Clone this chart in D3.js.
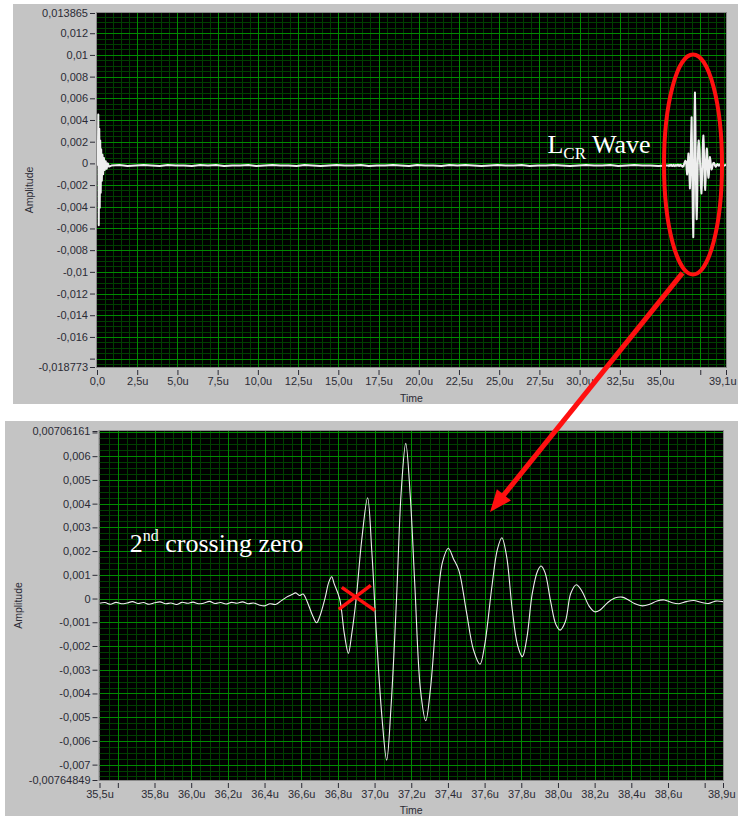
<!DOCTYPE html>
<html>
<head>
<meta charset="utf-8">
<script src="https://cdn.jsdelivr.net/npm/d3@7"></script>
<style>
	body { margin: 0; background: #ffffff; }
	svg { display: block; }
</style>
</head>
<body>
<script>
'use strict';

// ---- data (time in µs, amplitude) ----

// excitation pulse at the start of the full record
const topSpike = [
	[0.00, -0.0002], [0.05, -0.0001], [0.08, 0.0045], [0.11, -0.0057], [0.14, 0.0032], [0.17, -0.0041],
	[0.20, 0.0021], [0.23, -0.0027], [0.26, 0.0013], [0.30, -0.0016], [0.34, 0.0008], [0.38, -0.0010],
	[0.43, 0.0005], [0.48, -0.0006], [0.54, 0.0002], [0.60, -0.0005], [0.67, 0.0000], [0.75, -0.0003]
];

// quiet baseline between the pulse and the LCR burst
const topBase = [
	[0.9, -0.00020], [1.4, -0.00015], [1.9, -0.00025], [2.4, -0.00020], [2.9, -0.00015], [3.4, -0.00020], [3.9, -0.00025],
	[4.4, -0.00015], [4.9, -0.00020], [5.4, -0.00020], [5.9, -0.00025], [6.4, -0.00015], [6.9, -0.00020], [7.4, -0.00015],
	[7.9, -0.00025], [8.4, -0.00020], [8.9, -0.00020], [9.4, -0.00015], [9.9, -0.00025], [10.4, -0.00020], [10.9, -0.00015],
	[11.4, -0.00020], [11.9, -0.00020], [12.4, -0.00025], [12.9, -0.00015], [13.4, -0.00020], [13.9, -0.00025], [14.4, -0.00020],
	[14.9, -0.00015], [15.4, -0.00020], [15.9, -0.00020], [16.4, -0.00015], [16.9, -0.00025], [17.4, -0.00020], [17.9, -0.00020],
	[18.4, -0.00015], [18.9, -0.00020], [19.4, -0.00025], [19.9, -0.00015], [20.4, -0.00020], [20.9, -0.00020], [21.4, -0.00025],
	[21.9, -0.00015], [22.4, -0.00020], [22.9, -0.00015], [23.4, -0.00020], [23.9, -0.00025], [24.4, -0.00020], [24.9, -0.00015],
	[25.4, -0.00020], [25.9, -0.00020], [26.4, -0.00015], [26.9, -0.00025], [27.4, -0.00020], [27.9, -0.00020], [28.4, -0.00015],
	[28.9, -0.00020], [29.4, -0.00025], [29.9, -0.00020], [30.4, -0.00015], [30.9, -0.00020], [31.4, -0.00020], [31.9, -0.00015],
	[32.4, -0.00025], [32.9, -0.00020], [33.4, -0.00015], [33.9, -0.00020], [34.4, -0.00020], [34.9, -0.00025], [35.4, -0.00020]
];

// LCR wave, 35.5u .. 38.9u (shown zoomed in the lower graph)
const burst = [
	[35.50, -0.00020], [35.53, -0.00017], [35.56, -0.00024], [35.59, -0.00016], [35.62, -0.00022], [35.65, -0.00019],
	[35.68, -0.00013], [35.71, -0.00021], [35.74, -0.00017], [35.77, -0.00024], [35.80, -0.00018], [35.83, -0.00014],
	[35.86, -0.00022], [35.89, -0.00019], [35.92, -0.00025], [35.95, -0.00016], [35.98, -0.00020], [36.01, -0.00015],
	[36.04, -0.00022], [36.07, -0.00019], [36.10, -0.00012], [36.13, -0.00021], [36.16, -0.00017], [36.19, -0.00023],
	[36.22, -0.00016], [36.25, -0.00020], [36.28, -0.00014], [36.31, -0.00022], [36.34, -0.00019], [36.37, -0.00027],
	[36.40, -0.00031], [36.43, -0.00022], [36.46, -0.00025], [36.49, -0.00010], [36.52, 0.00006], [36.55, 0.00017],
	[36.57, 0.00024], [36.59, 0.00013], [36.61, 0.00019], [36.63, -0.00008], [36.66, -0.00068], [36.684, -0.00102],
	[36.70, -0.00078], [36.73, 0.00002], [36.75, 0.00068], [36.766, 0.00092], [36.78, 0.00062], [36.81, -0.00002],
	[36.835, -0.00148], [36.857, -0.00231], [36.875, -0.00152], [36.90, 0.00002], [36.93, 0.00248], [36.962, 0.00425],
	[36.985, 0.00198], [37.01, -0.00152], [37.04, -0.00498], [37.066, -0.00681], [37.09, -0.00452], [37.12, 0.00003],
	[37.145, 0.00448], [37.170, 0.00654], [37.195, 0.00428], [37.22, 0.00048], [37.25, -0.00382], [37.279, -0.00515],
	[37.305, -0.00378], [37.34, -0.00048], [37.37, 0.00152], [37.402, 0.00212], [37.43, 0.00168], [37.46, 0.00118],
	[37.50, -0.00052], [37.54, -0.00218], [37.575, -0.00277], [37.60, -0.00198], [37.64, 0.00052], [37.67, 0.00208],
	[37.694, 0.00256], [37.72, 0.00178], [37.75, -0.00042], [37.78, -0.00198], [37.806, -0.00245], [37.83, -0.00168],
	[37.86, 0.00022], [37.89, 0.00118], [37.908, 0.00137], [37.93, 0.00108], [37.96, -0.00012], [37.99, -0.00112],
	[38.012, -0.00133], [38.04, -0.00098], [38.07, 0.00022], [38.10, 0.00058], [38.13, 0.00032], [38.17, -0.00032],
	[38.20, -0.00056], [38.23, -0.00048], [38.27, -0.00018], [38.31, 0.00002], [38.35, 0.00006], [38.38, -0.00004],
	[38.42, -0.00022], [38.46, -0.00031], [38.50, -0.00024], [38.54, -0.00010], [38.58, -0.00006], [38.62, -0.00017],
	[38.66, -0.00022], [38.70, -0.00013], [38.74, -0.00008], [38.78, -0.00016], [38.82, -0.00021], [38.86, -0.00011],
	[38.90, -0.00013]
];

const topTail = [[39.0, -0.0002], [39.1, -0.0001]];

// axis ticks and their labels (blank label = tick hidden by LabVIEW because it overlaps an end label)
const topXTicks  = [0, 2.5, 5, 7.5, 10, 12.5, 15, 17.5, 20, 22.5, 25, 27.5, 30, 32.5, 35, 37.5, 39.1];
const topXLabels = ['0,0', '2,5u', '5,0u', '7,5u', '10,0u', '12,5u', '15,0u', '17,5u', '20,0u', '22,5u', '25,0u',
	'27,5u', '30,0u', '32,5u', '35,0u', '', '39,1u'];
const topYTicks  = [0.013865, 0.012, 0.01, 0.008, 0.006, 0.004, 0.002, 0, -0.002, -0.004, -0.006, -0.008,
	-0.01, -0.012, -0.014, -0.016, -0.018, -0.018773];
const topYLabels = ['0,013865', '0,012', '0,01', '0,008', '0,006', '0,004', '0,002', '0', '-0,002', '-0,004',
	'-0,006', '-0,008', '-0,01', '-0,012', '-0,014', '-0,016', '', '-0,018773'];

const botXTicks  = [35.5, 35.6, 35.8, 36.0, 36.2, 36.4, 36.6, 36.8, 37.0, 37.2, 37.4, 37.6, 37.8, 38.0, 38.2,
	38.4, 38.6, 38.8, 38.9];
const botXLabels = ['35,5u', '', '35,8u', '36,0u', '36,2u', '36,4u', '36,6u', '36,8u', '37,0u', '37,2u', '37,4u',
	'37,6u', '37,8u', '38,0u', '38,2u', '38,4u', '38,6u', '', '38,9u'];
const botYTicks  = [0.00706161, 0.007, 0.006, 0.005, 0.004, 0.003, 0.002, 0.001, 0, -0.001, -0.002, -0.003,
	-0.004, -0.005, -0.006, -0.007, -0.00764849];
const botYLabels = ['0,00706161', '', '0,006', '0,005', '0,004', '0,003', '0,002', '0,001', '0', '-0,001',
	'-0,002', '-0,003', '-0,004', '-0,005', '-0,006', '-0,007', '-0,00764849'];

// ---- drawing ----
const COLORS = {
	panel: '#c4c4c4',
	plot: '#000000',
	major: '#008a00',
	minor: '#003f00',
	trace: '#eeeeee',
	text: '#2b2b35',
	mark: '#ff1010'
};
const LABEL_FONT = '"Liberation Sans", Arial, sans-serif';

let svg = d3.select('body').append('svg').attr('width', 738).attr('height', 816);
let defs = svg.append('defs');

function drawGraph(p) {
	svg.append('rect')
		.attr('x', p.panel[0]).attr('y', p.panel[1])
		.attr('width', p.panel[2]).attr('height', p.panel[3])
		.attr('fill', COLORS.panel);

	let x = d3.scaleLinear().domain(p.xDomain).range([p.left, p.right]);
	let y = d3.scaleLinear().domain(p.yDomain).range([p.bottom, p.top]);

	let g = svg.append('g');
	g.append('rect')
		.attr('x', p.left).attr('y', p.top)
		.attr('width', p.right - p.left).attr('height', p.bottom - p.top)
		.attr('fill', COLORS.plot);

	// minor then major grid
	let grid = [
		{ xs: p.xMinor, ys: p.yMinor, color: COLORS.minor },
		{ xs: p.xMajor, ys: p.yMajor, color: COLORS.major }
	];
	grid.forEach((gr) => {
		g.append('g').selectAll('line').data(gr.xs).enter().append('line')
			.attr('x1', (d) => Math.round(x(d)) + 0.5).attr('x2', (d) => Math.round(x(d)) + 0.5)
			.attr('y1', p.top).attr('y2', p.bottom)
			.attr('stroke', gr.color).attr('stroke-width', 1);
		g.append('g').selectAll('line').data(gr.ys).enter().append('line')
			.attr('y1', (d) => Math.round(y(d)) + 0.5).attr('y2', (d) => Math.round(y(d)) + 0.5)
			.attr('x1', p.left).attr('x2', p.right)
			.attr('stroke', gr.color).attr('stroke-width', 1);
	});

	defs.append('clipPath').attr('id', p.id + '-clip')
		.append('rect')
		.attr('x', p.left).attr('y', p.top)
		.attr('width', p.right - p.left).attr('height', p.bottom - p.top);

	let line = d3.line()
		.x((d) => x(d[0]))
		.y((d) => y(d[1]))
		.curve(p.curve);

	g.append('path')
		.datum(p.series)
		.attr('clip-path', 'url(#' + p.id + '-clip)')
		.attr('d', line)
		.attr('fill', 'none')
		.attr('stroke', COLORS.trace)
		.attr('stroke-width', p.traceWidth)
		.attr('stroke-linejoin', 'round');

	// thin frame round the plot area
	g.append('rect')
		.attr('x', p.left - 0.5).attr('y', p.top - 0.5)
		.attr('width', p.right - p.left + 1).attr('height', p.bottom - p.top + 1)
		.attr('fill', 'none').attr('stroke', '#8a8a8a').attr('stroke-width', 1);

	// axes
	let yAxis = d3.axisLeft(y).tickValues(p.yTicks).tickFormat((d, i) => p.yLabels[i]).tickSize(5).tickPadding(2);
	let xAxis = d3.axisBottom(x).tickValues(p.xTicks).tickFormat((d, i) => p.xLabels[i]).tickSize(5).tickPadding(2);

	let ya = svg.append('g').attr('transform', 'translate(' + (p.left - 2) + ',0)').call(yAxis);
	let xa = svg.append('g').attr('transform', 'translate(0,' + (p.bottom + 3) + ')').call(xAxis);
	[ya, xa].forEach((a) => {
		a.select('.domain').remove();
		a.selectAll('line').attr('stroke', COLORS.text);
		a.selectAll('text')
			.attr('fill', COLORS.text)
			.style('font-family', LABEL_FONT)
			.style('font-size', '11px');
	});
	// the end label sits inside the panel, right-aligned like LabVIEW does
	xa.selectAll('.tick:last-of-type text').attr('text-anchor', 'end').attr('x', p.lastLabelShift);

	svg.append('text')
		.attr('transform', 'translate(' + p.yTitleX + ',' + ((p.top + p.bottom) / 2) + ') rotate(-90)')
		.attr('text-anchor', 'middle')
		.attr('fill', COLORS.text)
		.style('font-family', LABEL_FONT)
		.style('font-size', '10.5px')
		.text('Amplitude');
	svg.append('text')
		.attr('x', (p.left + p.right) / 2)
		.attr('y', p.xTitleY)
		.attr('text-anchor', 'middle')
		.attr('fill', COLORS.text)
		.style('font-family', LABEL_FONT)
		.style('font-size', '10.5px')
		.text('Time');

	return { x: x, y: y };
}

let topGraph = drawGraph({
	id: 'top',
	panel: [13, 4, 725, 400],
	left: 97, right: 726, top: 13, bottom: 367,
	xDomain: [0, 39.1], yDomain: [-0.018773, 0.013865],
	xMinor: d3.range(0.5, 39.1, 0.5), xMajor: d3.range(2.5, 39, 2.5),
	yMinor: d3.range(-0.0185, 0.0138, 0.0005), yMajor: d3.range(-0.018, 0.0121, 0.002),
	xTicks: topXTicks, xLabels: topXLabels, yTicks: topYTicks, yLabels: topYLabels,
	series: topSpike.concat(topBase, burst, topTail),
	curve: d3.curveLinear,
	traceWidth: 2,
	lastLabelShift: 10,
	yTitleX: 33, xTitleY: 402
});

let botGraph = drawGraph({
	id: 'bot',
	panel: [5, 421, 733, 395],
	left: 99.5, right: 723, top: 431, bottom: 780,
	xDomain: [35.5, 38.9], yDomain: [-0.00764849, 0.00706161],
	xMinor: d3.range(35.55, 38.9, 0.05), xMajor: d3.range(35.6, 38.85, 0.2),
	yMinor: d3.range(-0.0075, 0.00706, 0.00025), yMajor: d3.range(-0.007, 0.00705, 0.001),
	xTicks: botXTicks, xLabels: botXLabels, yTicks: botYTicks, yLabels: botYLabels,
	series: burst,
	curve: d3.curveCatmullRom.alpha(0.5),
	traceWidth: 1.1,
	lastLabelShift: 12,
	yTitleX: 22, xTitleY: 814
});

// ---- annotations ----
let notes = svg.append('g');
const serif = '"Liberation Serif", "Times New Roman", serif';

// ellipse round the LCR burst in the full record
notes.append('ellipse')
	.attr('cx', topGraph.x(37.05)).attr('cy', topGraph.y(-0.0001))
	.attr('rx', 29).attr('ry', 110)
	.attr('fill', 'none').attr('stroke', COLORS.mark).attr('stroke-width', 4);

let lcr = notes.append('text')
	.attr('x', topGraph.x(28.0)).attr('y', topGraph.y(0.0010))
	.attr('fill', '#ffffff')
	.style('font-family', serif)
	.style('font-size', '26px');
lcr.append('tspan').text('L');
lcr.append('tspan').attr('dy', 6).style('font-size', '17px').text('CR');
lcr.append('tspan').attr('dy', -6).text(' Wave');

// arrow from the ellipse to the zoomed graph
let a0 = [topGraph.x(36.4), topGraph.y(-0.0101)];
let a1 = [botGraph.x(37.63), botGraph.y(0.00365)];
let dx = a1[0] - a0[0], dy = a1[1] - a0[1];
let len = Math.sqrt(dx * dx + dy * dy);
let ux = dx / len, uy = dy / len;
let headLen = 22, headHalf = 9;
let base = [a1[0] - ux * headLen, a1[1] - uy * headLen];
notes.append('line')
	.attr('x1', a0[0]).attr('y1', a0[1])
	.attr('x2', base[0] + ux * 2).attr('y2', base[1] + uy * 2)
	.attr('stroke', COLORS.mark).attr('stroke-width', 5);
notes.append('polygon')
	.attr('points', [
		a1,
		[base[0] - uy * headHalf, base[1] + ux * headHalf],
		[base[0] + uy * headHalf, base[1] - ux * headHalf]
	].map((pt) => pt.join(',')).join(' '))
	.attr('fill', COLORS.mark);

// 2nd zero crossing marker
let zc = [botGraph.x(36.903), botGraph.y(0.00005)];
notes.append('line')
	.attr('x1', zc[0] - 15).attr('y1', zc[1] - 10)
	.attr('x2', zc[0] + 18).attr('y2', zc[1] + 13)
	.attr('stroke', COLORS.mark).attr('stroke-width', 3.5);
notes.append('line')
	.attr('x1', zc[0] - 18).attr('y1', zc[1] + 12)
	.attr('x2', zc[0] + 14).attr('y2', zc[1] - 12)
	.attr('stroke', COLORS.mark).attr('stroke-width', 3.5);

let zcText = notes.append('text')
	.attr('x', botGraph.x(35.665)).attr('y', botGraph.y(0.00196))
	.attr('fill', '#ffffff')
	.style('font-family', serif)
	.style('font-size', '26px');
zcText.append('tspan').text('2');
zcText.append('tspan').attr('dy', -11).style('font-size', '16px').text('nd');
zcText.append('tspan').attr('dy', 11).text(' crossing zero');
</script>
</body>
</html>
